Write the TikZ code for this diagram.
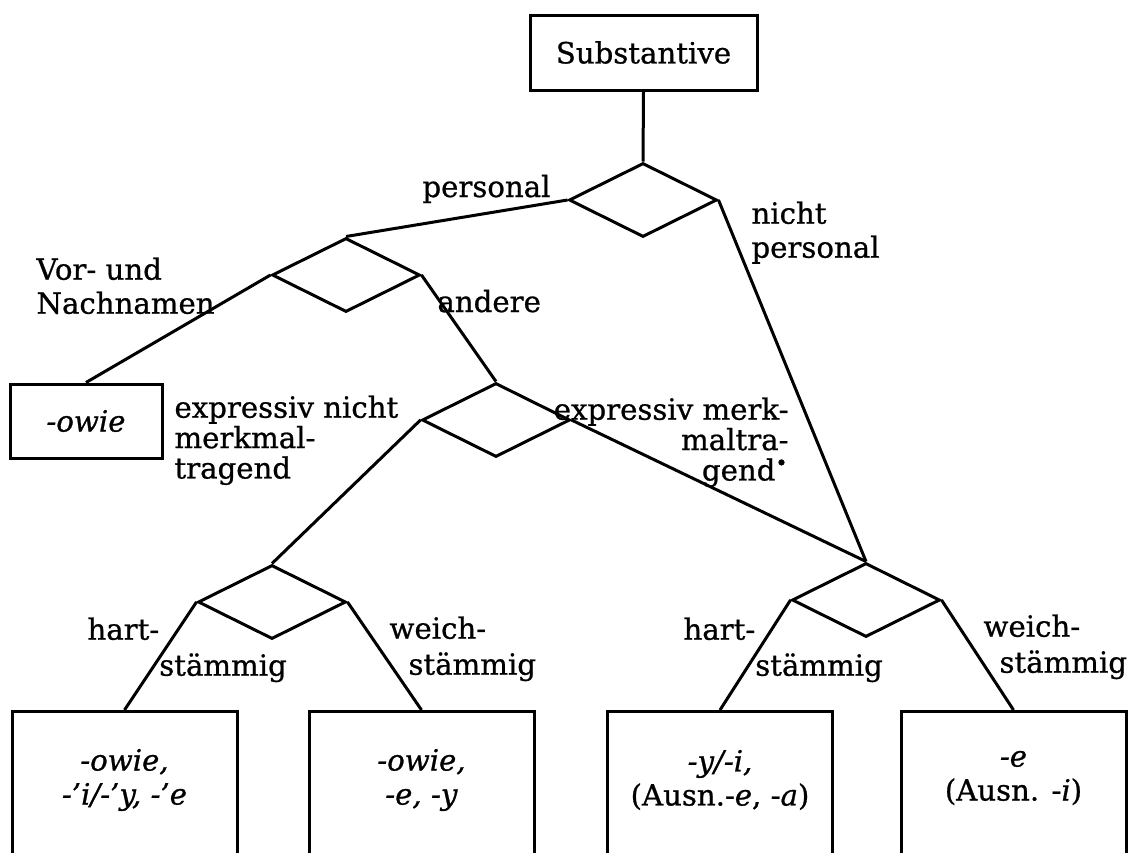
\documentclass[tikz,border=0pt]{standalone}
\usepackage{fontspec}
\setmainfont[FakeBold=0.8]{DejaVu Serif}
\usetikzlibrary{shapes.geometric}

\begin{document}
\begin{tikzpicture}[x=0.5pt,y=-0.5pt,line width=1.5pt,
  font=\fontsize{14.6pt}{17pt}\selectfont,
  box/.style={draw,rectangle,inner sep=0pt},
  dia/.style={draw,diamond,minimum width=74pt,minimum height=37pt,inner sep=0pt},
  leaf/.style={box,minimum width=112.5pt,minimum height=100pt,anchor=north},
  lbl/.style={inner sep=0pt,align=left}]
  \path[use as bounding box] (0,0) rectangle (1129,852);
  \clip (0,0) rectangle (1129,852);

  \node[box,minimum width=113.5pt,minimum height=37.5pt] (subst) at (643.5,52.5) {Substantive};
  \node[dia] (d1) at (643,200) {};
  \node[dia] (d2) at (346,275) {};
  \node[dia] (d3) at (496,420) {};
  \node[dia] (d4) at (272,602) {};
  \node[dia] (d5) at (866,600) {};
  \node[box,minimum width=76pt,minimum height=37pt] (owie) at (86,421) {\textit{-owie}};

  \node[leaf] (b1) at (124.5,710) {};
  \node[leaf] (b2) at (421.5,710) {};
  \node[leaf] (b3) at (720,710) {};
  \node[leaf] (b4) at (1013.5,710) {};
  \node[align=center] (t1) at (124.5,780) {\textit{-owie,}\\\textit{-’i/-’y, -’e}};
  \node[align=center] (t2) at (421.5,780) {\textit{-owie,}\\\textit{-e, -y}};
  \node[align=center] (t3) at (720,780) {\textit{-y/-i,}\\(Ausn.-\textit{e}, -\textit{a})};
  \node[align=center] (t4) at (1013.5,778) {\textit{-e}\\(Ausn. -\textit{i})};

  \draw (subst.south) -- (d1.north);
  \draw (d1.west) -- (d2.north);
  \draw (d1.east) -- (d5.north);
  \draw (d2.west) -- (owie.north);
  \draw (d2.east) -- (d3.north);
  \draw (d3.west) -- (d4.north);
  \draw (d3.east) -- (d5.north);
  \draw (d4.west) -- (b1.north);
  \draw (d4.east) -- (b2.north);
  \draw (d5.west) -- (b3.north);
  \draw (d5.east) -- (b4.north);

  \node[lbl,anchor=base east] (lpers) at (552,197) {personal};
  \node[lbl,anchor=north west] (lnpers) at (750,200) {nicht\\personal};
  \node[lbl,anchor=north west] (lvor) at (35,256) {Vor- und\\Nachnamen};
  \node[lbl,anchor=base west] (land) at (436,312) {andere};
  \node[lbl,anchor=north west,font=\fontsize{14.6pt}{15.2pt}\selectfont] (lexn) at (173,394) {expressiv nicht\\merkmal-\\tragend};
  \node[lbl,anchor=north east,align=right,font=\fontsize{14.6pt}{15.2pt}\selectfont] (lexm) at (790,396) {expressiv merk-\\maltra-\\gend\textsuperscript{\textbullet}};
  \node[lbl,anchor=north west,font=\fontsize{14.6pt}{18pt}\selectfont] (lhart1) at (86,616) {hart-\\\phantom{hart-}stämmig};
  \node[lbl,anchor=north west,font=\fontsize{14.6pt}{18pt}\selectfont] (lweich1) at (388,615) {weich-\\\hspace*{9.5pt}stämmig};
  \node[lbl,anchor=north west,font=\fontsize{14.6pt}{18pt}\selectfont] (lhart2) at (682,616) {hart-\\\phantom{hart-}stämmig};
  \node[lbl,anchor=north west,font=\fontsize{14.6pt}{18pt}\selectfont] (lweich2) at (982,613) {weich-\\\hspace*{8pt}stämmig};
\end{tikzpicture}
\end{document}
